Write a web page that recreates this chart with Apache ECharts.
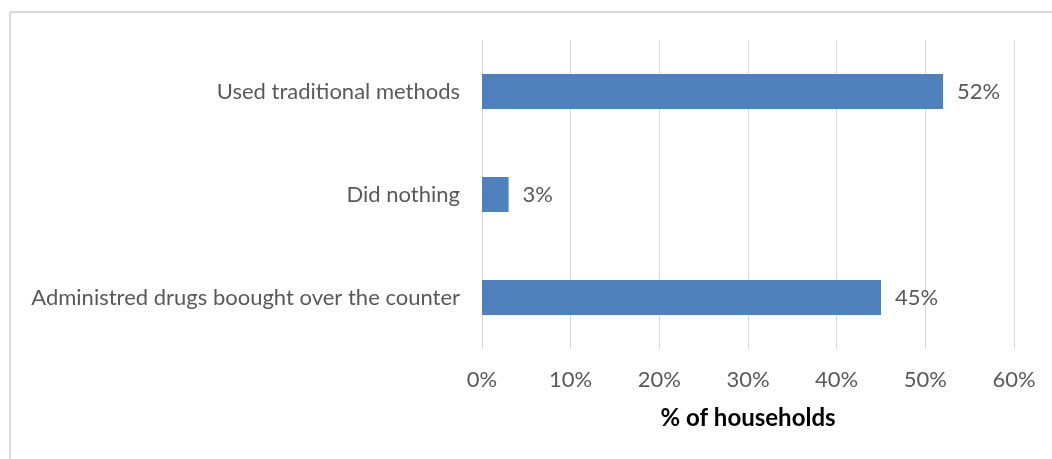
<!DOCTYPE html>
<html>
<head>
<meta charset="utf-8">
<script src="https://cdn.jsdelivr.net/npm/echarts@6/dist/echarts.min.js"></script>
<style>
  html, body { margin: 0; padding: 0; background: #fff; }
  #chart { width: 1052px; height: 459px; }
</style>
</head>
<body>
<div id="chart"></div>
<script>
// Survey responses: what households did (bottom-to-top order on the axis)
const categories = [
  'Administred drugs boought over the counter',
  'Did nothing',
  'Used traditional methods'
];
const shares = [45, 3, 52];
const axisTicks = [0, 10, 20, 30, 40, 50, 60];
const axisTitle = '% of households';

const font = 'Lato, "Open Sans", "Noto Sans", sans-serif';
const chart = echarts.init(document.getElementById('chart'));

chart.setOption({
  animation: false,
  backgroundColor: '#ffffff',
  graphic: [
    { type: 'line', shape: { x1: 10, y1: 12, x2: 1052, y2: 12 }, style: { stroke: '#d9d9d9', lineWidth: 2 } },
    { type: 'line', shape: { x1: 10, y1: 12, x2: 10, y2: 459 }, style: { stroke: '#d9d9d9', lineWidth: 2 } }
  ],
  grid: { left: 482, right: 38, top: 40, bottom: 110 },
  xAxis: {
    type: 'value',
    min: axisTicks[0],
    max: axisTicks[axisTicks.length - 1],
    interval: 10,
    name: axisTitle,
    nameLocation: 'middle',
    nameGap: 57,
    nameTextStyle: { fontFamily: font, fontSize: 24, fontWeight: 'bold', color: '#000000' },
    axisLine: { show: false },
    axisTick: { show: false },
    axisLabel: {
      formatter: v => v + '%',
      fontFamily: font, fontSize: 22, color: '#595959', margin: 20
    },
    splitLine: { lineStyle: { color: '#d9d9d9', width: 1 } }
  },
  yAxis: {
    type: 'category',
    data: categories,
    axisLine: { show: false },
    axisTick: { show: false },
    axisLabel: { fontFamily: font, fontSize: 22, color: '#595959', margin: 22 }
  },
  series: [{
    type: 'bar',
    data: shares,
    barWidth: '34%',
    itemStyle: { color: '#4f81bd' },
    label: {
      show: true,
      position: 'right',
      distance: 14,
      formatter: p => p.value + '%',
      fontFamily: font, fontSize: 22, color: '#595959'
    }
  }]
});
</script>
</body>
</html>
